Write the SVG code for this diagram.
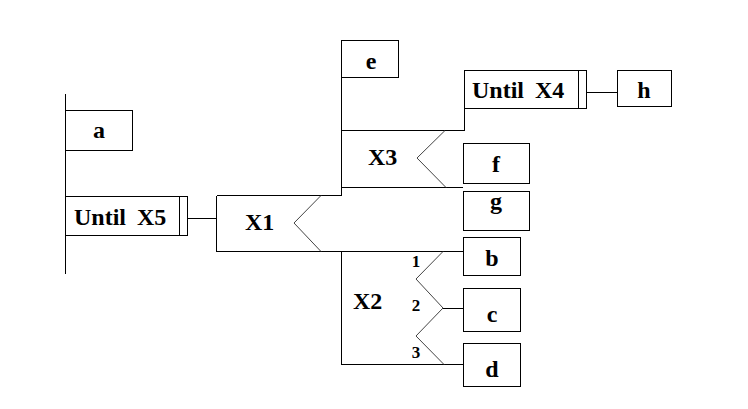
<svg xmlns="http://www.w3.org/2000/svg" width="748" height="409" viewBox="0 0 748 409">
<style>
.b{fill:#fff;stroke:#000;stroke-width:1;shape-rendering:crispEdges}
.l{fill:none;stroke:#000;stroke-width:1;shape-rendering:crispEdges}
.v{fill:none;stroke:#444;stroke-width:1}
</style>
<rect width="748" height="409" fill="#fff"/>
<g id="connectors">
<line class="l" x1="65.5" y1="94" x2="65.5" y2="274"/>
<line class="l" x1="188" y1="218.5" x2="217" y2="218.5"/>
<line class="l" x1="341.5" y1="41" x2="341.5" y2="195.5"/>
<line class="l" x1="341.5" y1="130.5" x2="464.5" y2="130.5"/>
<line class="l" x1="464.5" y1="109" x2="464.5" y2="130.5"/>
<line class="l" x1="341.5" y1="187.5" x2="463" y2="187.5"/>
<line class="l" x1="217" y1="195.5" x2="341.5" y2="195.5"/>
<line class="l" x1="217" y1="251.5" x2="463" y2="251.5"/>
<line class="l" x1="341.5" y1="251.5" x2="341.5" y2="364.5"/>
<line class="l" x1="341.5" y1="364.5" x2="463" y2="364.5"/>
<line class="l" x1="443" y1="308.5" x2="463" y2="308.5"/>
<line class="l" x1="587" y1="92.5" x2="617" y2="92.5"/>
</g>
<g id="a"><rect class="b" x="65.5" y="110.5" width="67" height="40"/><text font-family="Liberation Serif" font-weight="bold" font-size="24" text-anchor="middle" x="99" y="138">a</text></g>
<g id="until-x5"><rect class="b" x="65.5" y="196.5" width="122" height="39"/><line class="l" x1="179.5" y1="196.5" x2="179.5" y2="235.5"/><text font-family="Liberation Serif" font-weight="bold" font-size="24" x="74" y="225">Until</text><text font-family="Liberation Serif" font-weight="bold" font-size="24" x="137" y="225">X5</text></g>
<g id="x1"><line class="l" x1="216.5" y1="195.5" x2="216.5" y2="251.5"/><polyline class="v" points="321,195.5 294,223 321,251.5"/><text font-family="Liberation Serif" font-weight="bold" font-size="24" x="245" y="230">X1</text></g>
<g id="e"><rect class="b" x="341.5" y="40.5" width="57" height="37"/><text font-family="Liberation Serif" font-weight="bold" font-size="24" text-anchor="middle" x="371" y="69">e</text></g>
<g id="x3"><polyline class="v" points="445,130.5 417,158 446,187.5"/><text font-family="Liberation Serif" font-weight="bold" font-size="24" x="368" y="165">X3</text></g>
<g id="until-x4"><rect class="b" x="464.5" y="70.5" width="122" height="38"/><line class="l" x1="578.5" y1="70.5" x2="578.5" y2="108.5"/><text font-family="Liberation Serif" font-weight="bold" font-size="24" x="472" y="98">Until</text><text font-family="Liberation Serif" font-weight="bold" font-size="24" x="535" y="98">X4</text></g>
<g id="h"><rect class="b" x="617.5" y="70.5" width="54" height="36"/><text font-family="Liberation Serif" font-weight="bold" font-size="24" text-anchor="middle" x="644" y="98">h</text></g>
<g id="f"><rect class="b" x="463.5" y="143.5" width="66" height="40"/><text font-family="Liberation Serif" font-weight="bold" font-size="24" text-anchor="middle" x="496" y="172">f</text></g>
<g id="g"><rect class="b" x="463.5" y="191.5" width="66" height="39"/><text font-family="Liberation Serif" font-weight="bold" font-size="24" text-anchor="middle" x="496" y="209">g</text></g>
<g id="x2"><polyline class="v" points="443,251.5 416,279 443,308 416,336 444,364.5"/><text font-family="Liberation Serif" font-weight="bold" font-size="24" x="353" y="309">X2</text><text font-family="Liberation Serif" font-weight="bold" font-size="17" text-anchor="middle" x="416" y="267">1</text><text font-family="Liberation Serif" font-weight="bold" font-size="17" text-anchor="middle" x="416" y="311">2</text><text font-family="Liberation Serif" font-weight="bold" font-size="17" text-anchor="middle" x="416" y="358">3</text></g>
<g id="b"><rect class="b" x="463.5" y="237.5" width="57" height="38"/><text font-family="Liberation Serif" font-weight="bold" font-size="24" text-anchor="middle" x="492" y="266">b</text></g>
<g id="c"><rect class="b" x="463.5" y="288.5" width="57" height="43"/><text font-family="Liberation Serif" font-weight="bold" font-size="24" text-anchor="middle" x="492" y="322">c</text></g>
<g id="d"><rect class="b" x="463.5" y="343.5" width="57" height="43"/><text font-family="Liberation Serif" font-weight="bold" font-size="24" text-anchor="middle" x="492" y="377">d</text></g>
</svg>
